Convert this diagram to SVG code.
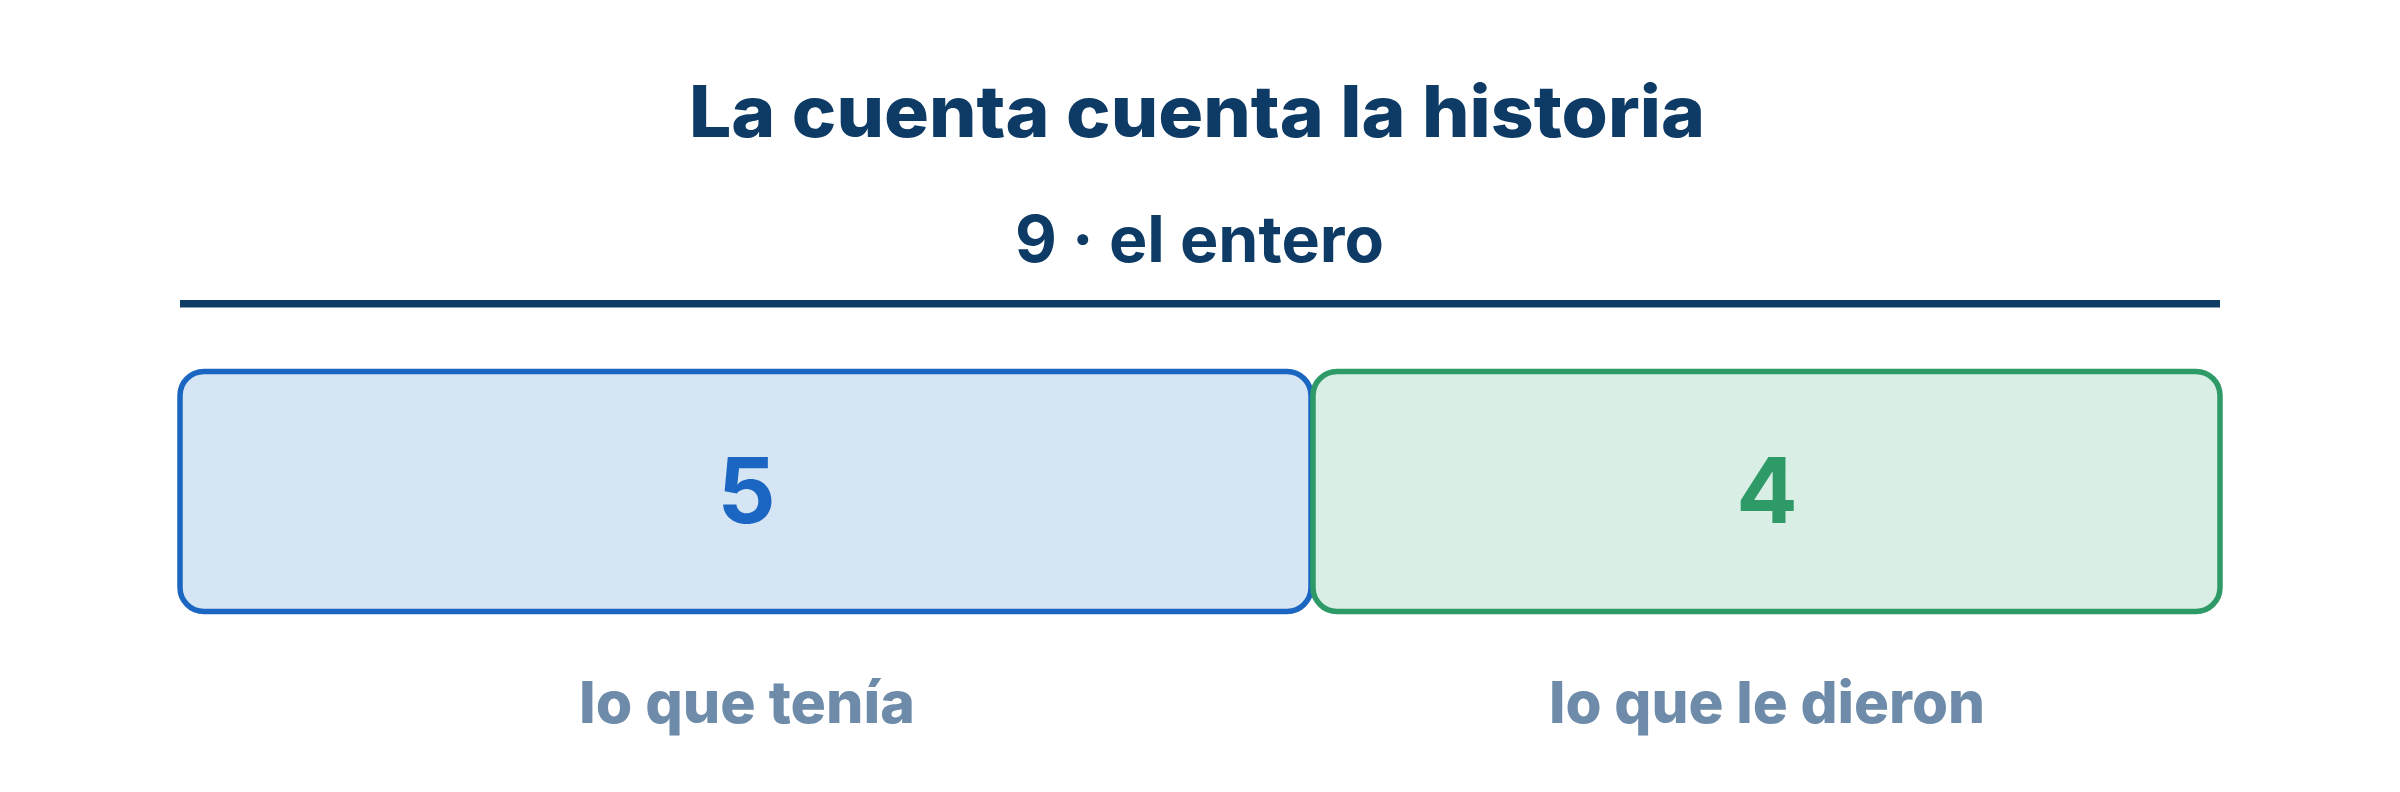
<svg xmlns="http://www.w3.org/2000/svg" width="2400" height="792" viewBox="0 0 2400 792">
  <style>
    .title { font-family: "Inter", "Liberation Sans", sans-serif; font-weight: 800; fill: #0d3b66; }
    .sub { font-family: "Inter", "Liberation Sans", sans-serif; font-weight: 700; fill: #0d3b66; }
    .num { font-family: "Inter", "Liberation Sans", sans-serif; font-weight: 700; text-anchor: middle; }
    .lbl { font-family: "Inter", "Liberation Sans", sans-serif; font-weight: 800; fill: #6e8caa; }
  </style>
  <rect width="2400" height="792" fill="#ffffff"/>
  <g id="title">
    <text class="title" x="689" y="137" font-size="71" textLength="1016" lengthAdjust="spacingAndGlyphs">La cuenta cuenta la historia</text>
  </g>
  <g id="whole">
    <text class="sub" x="1015" y="262" font-size="64" textLength="369" lengthAdjust="spacingAndGlyphs">9 · el entero</text>
    <rect x="180" y="300" width="2040" height="7.5" fill="#0d3b66"/>
  </g>
  <g id="part-5">
    <rect x="180" y="371.5" width="1131" height="240" rx="24" fill="#d5e5f4" stroke="#1a66c0" stroke-width="5.5"/>
    <text class="num" x="746.5" y="523" font-size="91" fill="#1a66c2">5</text>
    <text class="lbl" x="579" y="723" font-size="58" textLength="336" lengthAdjust="spacingAndGlyphs">lo que tenía</text>
  </g>
  <g id="part-4">
    <rect x="1313" y="371.5" width="907" height="240" rx="24" fill="#d9eee4" stroke="#2e9a68" stroke-width="5.5"/>
    <text class="num" x="1767" y="523" font-size="91" fill="#2e9a68">4</text>
    <text class="lbl" x="1549" y="723" font-size="58" textLength="436" lengthAdjust="spacingAndGlyphs">lo que le dieron</text>
  </g>
  <g id="connectors"></g>
</svg>
